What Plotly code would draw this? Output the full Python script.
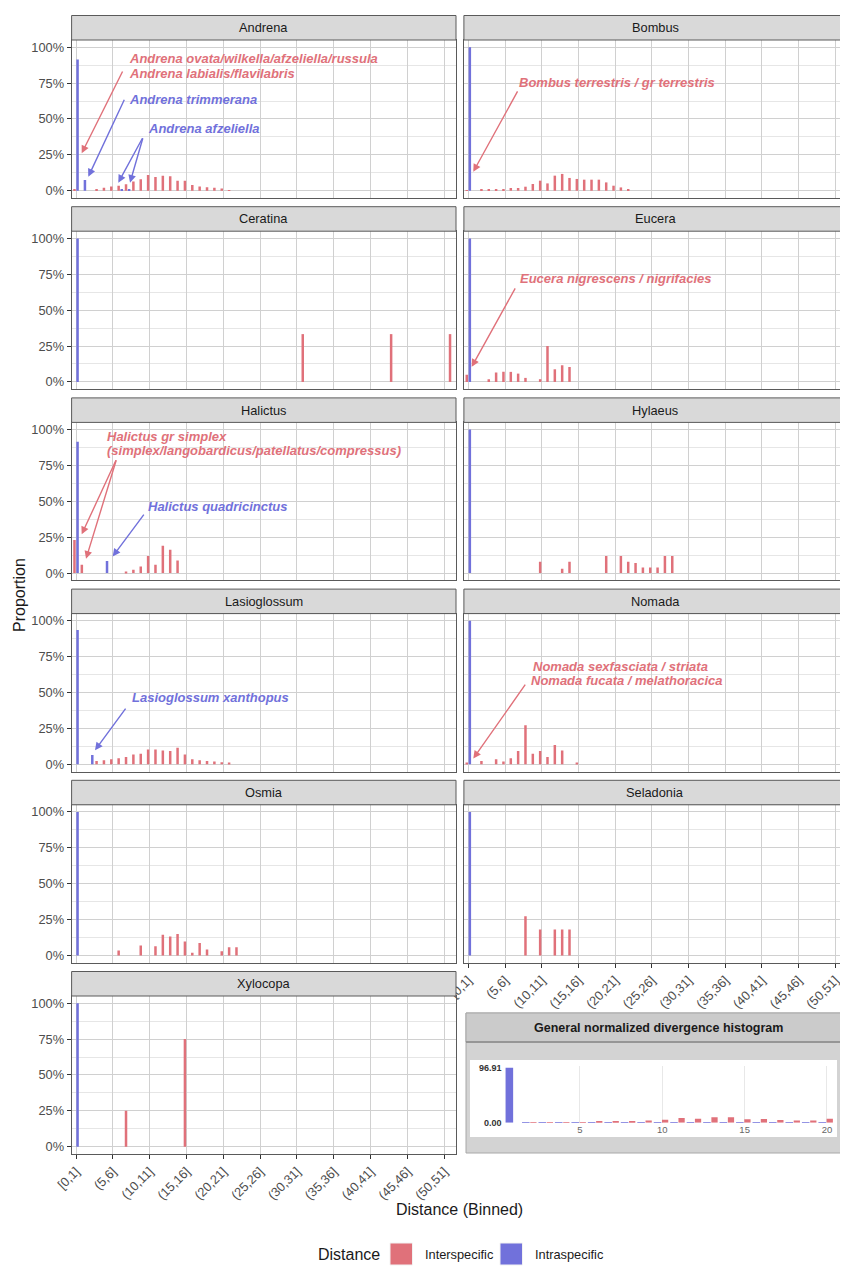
import plotly.graph_objects as go

# The page body has an 8px margin, so the figure is drawn slightly smaller and
# every reference pixel position is shifted by that margin.
OX, OY = 8, 8
FW, FH = 840, 1266
RED = "#E0717A"
BLUE = "#7171DB"
FONT = "Liberation Sans, Arial, Helvetica, sans-serif"
GRID = "#d0d0d0"
MINOR = "#e6e6e6"
BORDER = "#5a5a5a"

# ---------------- data ----------------
bin_labels = ["[0,1]"] + ["(%d,%d]" % (i, i + 1) for i in range(1, 52)]
tick_bins = [1, 6, 11, 16, 21, 26, 31, 36, 41, 46, 51]
tick_text = [bin_labels[b - 1] for b in tick_bins]
y_ticks = [0, 25, 50, 75, 100]
y_tick_text = ["0%", "25%", "50%", "75%", "100%"]

andrena_inter_x = [1, 4, 5, 6, 7, 8, 9, 10, 11, 12, 13, 14, 15, 16, 17, 18, 19, 20, 21, 22]
andrena_inter_y = [1, 1, 2, 3, 3.5, 4.5, 6.5, 8, 11, 9.5, 10.5, 10, 7, 7, 4, 3, 2.5, 2, 1.5, 0.5]
andrena_intra_x = [1, 2, 7, 8]
andrena_intra_y = [91.4, 7.5, 0.6, 0.6]

bombus_inter_x = [1, 3, 4, 5, 6, 7, 8, 9, 10, 11, 12, 13, 14, 15, 16, 17, 18, 19, 20, 21, 22, 23]
bombus_inter_y = [0.5, 0.7, 0.7, 1.2, 1.2, 1.9, 1.9, 2.8, 4.7, 7, 5.1, 10.5, 11.7, 8.9, 8.2, 7.7, 7.7, 7.7, 5.8, 3.5, 2.3, 1.2]
bombus_intra_x = [1]
bombus_intra_y = [100]

ceratina_inter_x = [32, 44, 52]
ceratina_inter_y = [33.3, 33.3, 33.3]
ceratina_intra_x = [1]
ceratina_intra_y = [100]

eucera_inter_x = [1, 4, 5, 6, 7, 8, 9, 11, 12, 13, 14, 15]
eucera_inter_y = [5, 1.9, 6.5, 7, 7, 5.8, 2.8, 1.9, 25, 8.8, 11.6, 10.4]
eucera_intra_x = [1]
eucera_intra_y = [100]

halictus_inter_x = [1, 2, 8, 9, 10, 11, 12, 13, 14, 15]
halictus_inter_y = [23, 5.8, 0.7, 2.3, 4.7, 12, 5.8, 19, 16.3, 8.8]
halictus_intra_x = [1, 5]
halictus_intra_y = [91.6, 8.4]

hylaeus_inter_x = [11, 14, 15, 20, 22, 23, 24, 25, 26, 27, 28, 29]
hylaeus_inter_y = [8, 3, 8, 12, 12, 8, 7, 4, 4, 4, 12, 12]
hylaeus_intra_x = [1]
hylaeus_intra_y = [100]

lasioglossum_inter_x = [4, 5, 6, 7, 8, 9, 10, 11, 12, 13, 14, 15, 16, 17, 18, 19, 20, 21, 22]
lasioglossum_inter_y = [2.3, 2.8, 3.5, 4.2, 5.1, 6.9, 7.4, 10.4, 10.4, 9.7, 9.3, 11.6, 6.9, 3.5, 2.8, 2.3, 1.9, 1.4, 0.7]
lasioglossum_intra_x = [1, 3]
lasioglossum_intra_y = [93.5, 6.5]

nomada_inter_x = [1, 3, 5, 6, 7, 8, 9, 10, 11, 12, 13, 14, 16]
nomada_inter_y = [1, 2.3, 3.5, 1.9, 4.2, 9.3, 27.3, 7.4, 9.3, 5.1, 13.4, 9.7, 0.7]
nomada_intra_x = [1]
nomada_intra_y = [100]

osmia_inter_x = [7, 10, 12, 13, 14, 15, 16, 17, 18, 19, 21, 22, 23]
osmia_inter_y = [3.5, 7, 6.5, 14.4, 13.2, 15, 9.7, 1.9, 8.8, 4.2, 3, 5.8, 5.8]
osmia_intra_x = [1]
osmia_intra_y = [100]

seladonia_inter_x = [9, 11, 13, 14, 15]
seladonia_inter_y = [27.3, 18.2, 18.2, 18.2, 18.2]
seladonia_intra_x = [1]
seladonia_intra_y = [100]

xylocopa_inter_x = [8, 16]
xylocopa_inter_y = [25, 75]
xylocopa_intra_x = [1]
xylocopa_intra_y = [100]

inset_x = [1, 2, 3, 4, 5, 6, 7, 8, 9, 10, 11, 12, 13, 14, 15, 16, 17, 18, 19, 20]
inset_intra = [96.91, 0.3, 0.3, 0.3, 0.3, 0.3, 0.2, 0.2, 0.2, 0.2, 0.1, 0.1, 0.1, 0.1, 0.1, 0.1, 0.1, 0.1, 0.1, 0.1]
inset_inter = [0, 0.6, 0.6, 0.6, 1.2, 1.8, 2.4, 2.9, 4.1, 5.3, 8.2, 7.1, 9.4, 9.4, 5.9, 6.5, 4.7, 4.1, 4.1, 7.1]

panels = [
    ("Andrena", andrena_inter_x, andrena_inter_y, andrena_intra_x, andrena_intra_y),
    ("Bombus", bombus_inter_x, bombus_inter_y, bombus_intra_x, bombus_intra_y),
    ("Ceratina", ceratina_inter_x, ceratina_inter_y, ceratina_intra_x, ceratina_intra_y),
    ("Eucera", eucera_inter_x, eucera_inter_y, eucera_intra_x, eucera_intra_y),
    ("Halictus", halictus_inter_x, halictus_inter_y, halictus_intra_x, halictus_intra_y),
    ("Hylaeus", hylaeus_inter_x, hylaeus_inter_y, hylaeus_intra_x, hylaeus_intra_y),
    ("Lasioglossum", lasioglossum_inter_x, lasioglossum_inter_y, lasioglossum_intra_x, lasioglossum_intra_y),
    ("Nomada", nomada_inter_x, nomada_inter_y, nomada_intra_x, nomada_intra_y),
    ("Osmia", osmia_inter_x, osmia_inter_y, osmia_intra_x, osmia_intra_y),
    ("Seladonia", seladonia_inter_x, seladonia_inter_y, seladonia_intra_x, seladonia_intra_y),
    ("Xylocopa", xylocopa_inter_x, xylocopa_inter_y, xylocopa_intra_x, xylocopa_intra_y),
]

# annotation texts: (panel, text, colour, x(bin), y(%))
notes = [
    ("Andrena", "Andrena ovata/wilkella/afzeliella/russula", RED, 8.06, 92.1),
    ("Andrena", "Andrena labialis/flavilabris", RED, 8.06, 81.9),
    ("Andrena", "Andrena trimmerana", BLUE, 8.06, 63.2),
    ("Andrena", "Andrena afzeliella", BLUE, 10.64, 43.0),
    ("Bombus", "Bombus terrestris / gr terrestris", RED, 7.82, 75.3),
    ("Eucera", "Eucera nigrescens / nigrifacies", RED, 7.96, 72.0),
    ("Halictus", "Halictus gr simplex", RED, 5.07, 95.5),
    ("Halictus", "(simplex/langobardicus/patellatus/compressus)", RED, 5.07, 85.3),
    ("Halictus", "Halictus quadricinctus", BLUE, 10.6, 46.5),
    ("Lasioglossum", "Lasioglossum xanthopus", BLUE, 8.42, 46.9),
    ("Nomada", "Nomada sexfasciata / striata", RED, 9.65, 68.4),
    ("Nomada", "Nomada fucata / melathoracica", RED, 9.45, 58.2),
]
# arrows: (panel, colour, head x, head y, tail x, tail y)
arrows = [
    ("Andrena", RED, 1.77, 26.1, 7.42, 84.1),
    ("Andrena", BLUE, 2.67, 9.8, 7.65, 64.4),
    ("Andrena", BLUE, 6.74, 5.6, 10.13, 37.6),
    ("Andrena", BLUE, 8.33, 5.6, 10.13, 37.6),
    ("Bombus", RED, 1.68, 13.2, 7.82, 70.2),
    ("Eucera", RED, 1.46, 10.5, 7.5, 66.2),
    ("Halictus", RED, 1.77, 27.0, 6.52, 79.7),
    ("Halictus", RED, 2.36, 10.0, 6.52, 79.7),
    ("Halictus", BLUE, 5.98, 11.6, 10.36, 41.8),
    ("Lasioglossum", BLUE, 3.58, 9.8, 7.88, 39.9),
    ("Nomada", RED, 1.68, 4.0, 8.9, 56.5),
]

# ---------------- layout geometry (reference pixels) ----------------
LEFT = (71.6, 456.0)
RIGHT = (463.9, 847.0)
TOP0 = 40.0
PITCH = 191.2
PH = 157.9
STRIP = 24.5


def px(x):
    return (x - OX) / FW


def py(y):
    return 1 - (y - OY) / FH


fig = go.Figure()
layout = {}
shapes = []
annotations = []
axis_of = {}

for k, (name, ix, iy, jx, jy) in enumerate(panels):
    r, c = divmod(k, 2)
    x0, x1 = LEFT if c == 0 else RIGHT
    top = TOP0 + PITCH * r
    bot = top + PH
    sfx = "" if k == 0 else str(k + 1)
    xa, ya = "x" + sfx, "y" + sfx
    axis_of[name] = (xa, ya)
    fig.add_trace(go.Bar(x=ix, y=iy, xaxis=xa, yaxis=ya, marker=dict(color=RED, line=dict(width=0)),
                         width=0.34, offset=-0.38, name="Interspecific", showlegend=False))
    fig.add_trace(go.Bar(x=jx, y=jy, xaxis=xa, yaxis=ya, marker=dict(color=BLUE, line=dict(width=0)),
                         width=0.34, offset=0.04, name="Intraspecific", showlegend=False))
    bottom_panel = name in ("Xylocopa", "Seladonia")
    layout["xaxis" + sfx] = dict(
        domain=[px(x0), px(x1)], anchor=ya, range=[0.4, 52.6],
        tickmode="array", tickvals=tick_bins, ticktext=tick_text,
        showticklabels=bottom_panel, ticks="outside" if bottom_panel else "",
        ticklen=4, tickwidth=1, tickcolor="#333333", tickangle=-45,
        tickfont=dict(family=FONT, size=12.8, color="#4d4d4d"),
        showgrid=True, gridcolor=GRID, gridwidth=1, zeroline=False,
        showline=True, mirror=True, linecolor=BORDER, linewidth=1,
        automargin=False, fixedrange=True)
    layout["yaxis" + sfx] = dict(
        domain=[py(bot), py(top)], anchor=xa, range=[-5, 105],
        tickmode="array", tickvals=y_ticks, ticktext=y_tick_text,
        showticklabels=(c == 0), ticks="outside" if c == 0 else "",
        ticklen=4, tickwidth=1, tickcolor="#333333",
        tickfont=dict(family=FONT, size=12.8, color="#4d4d4d"),
        showgrid=True, gridcolor=GRID, gridwidth=1, zeroline=False,
        showline=True, mirror=True, linecolor=BORDER, linewidth=1,
        minor=dict(tickmode="array", tickvals=[12.5, 37.5, 62.5, 87.5], showgrid=True,
                   gridcolor=MINOR, gridwidth=1, ticks=""),
        automargin=False, fixedrange=True)
    shapes.append(dict(type="rect", xref="paper", yref="paper", x0=px(x0), x1=px(x1),
                       y0=py(top), y1=py(top - STRIP), fillcolor="#d9d9d9",
                       line=dict(color=BORDER, width=1), layer="above"))
    annotations.append(dict(text=name, xref="paper", yref="paper", x=px((x0 + x1) / 2),
                            y=py(top - STRIP / 2), showarrow=False, xanchor="center", yanchor="middle",
                            font=dict(family=FONT, size=12.8, color="#1a1a1a")))

for name, text, col, x, y in notes:
    xa, ya = axis_of[name]
    annotations.append(dict(text=text, xref=xa, yref=ya, x=x, y=y, showarrow=False,
                            xanchor="left", yanchor="middle", borderpad=0,
                            font=dict(family=FONT, size=13, color=col, weight="bold", style="italic")))

for name, col, hx, hy, tx, ty in arrows:
    xa, ya = axis_of[name]
    annotations.append(dict(text="", xref=xa, yref=ya, x=hx, y=hy, axref=xa, ayref=ya, ax=tx, ay=ty,
                            showarrow=True, arrowhead=2, arrowsize=1.1, arrowwidth=1.4, arrowcolor=col,
                            standoff=0, startstandoff=0))

# ---------------- inset histogram ----------------
shapes.append(dict(type="rect", xref="paper", yref="paper", x0=px(466), x1=px(843), y0=py(1153), y1=py(1013),
                   fillcolor="#d3d3d3", line=dict(color="#a8a8a8", width=1), layer="below"))
shapes.append(dict(type="rect", xref="paper", yref="paper", x0=px(466), x1=px(843), y0=py(1042), y1=py(1013),
                   fillcolor="#cbcbcb", line=dict(color="#a8a8a8", width=1), layer="below"))
shapes.append(dict(type="line", xref="paper", yref="paper", x0=px(466), x1=px(843), y0=py(1042), y1=py(1042),
                   line=dict(color="#8a8a8a", width=1.5), layer="below"))
shapes.append(dict(type="rect", xref="paper", yref="paper", x0=px(470), x1=px(837), y0=py(1137), y1=py(1060),
                   fillcolor="white", line=dict(width=0), layer="below"))
annotations.append(dict(text="General normalized divergence histogram", xref="paper", yref="paper",
                        x=px(658), y=py(1027.5), showarrow=False, xanchor="center", yanchor="middle",
                        font=dict(family=FONT, size=12.5, color="#1a1a1a", weight="bold")))

fig.add_trace(go.Bar(x=inset_x, y=inset_intra, xaxis="x12", yaxis="y12", marker=dict(color=BLUE, line=dict(width=0)),
                     width=0.46, offset=-0.52, name="Intraspecific", showlegend=False))
fig.add_trace(go.Bar(x=inset_x, y=inset_inter, xaxis="x12", yaxis="y12", marker=dict(color=RED, line=dict(width=0)),
                     width=0.38, offset=-0.02, name="Interspecific", showlegend=False))
layout["xaxis12"] = dict(domain=[px(502.6), px(835.2)], anchor="y12", range=[0.3, 20.5],
                         tickmode="array", tickvals=[5, 10, 15, 20], ticks="", showline=False,
                         showgrid=True, gridcolor="#e8e8e8", gridwidth=1, zeroline=False,
                         tickfont=dict(family=FONT, size=9.5, color="#666666"), automargin=False, fixedrange=True)
layout["yaxis12"] = dict(domain=[py(1122.7), py(1066)], anchor="x12", range=[0, 100],
                         tickmode="array", tickvals=[0, 96.91], ticktext=["0.00", "96.91"], ticks="",
                         showgrid=False, zeroline=False, showline=False,
                         tickfont=dict(family=FONT, size=9, color="#333333", weight="bold"),
                         automargin=False, fixedrange=True)

# ---------------- titles & legend ----------------
annotations.append(dict(text="Proportion", xref="paper", yref="paper", x=px(19), y=py(595), textangle=-90,
                        showarrow=False, xanchor="center", yanchor="middle",
                        font=dict(family=FONT, size=16, color="#1a1a1a")))
annotations.append(dict(text="Distance (Binned)", xref="paper", yref="paper", x=px(459), y=py(1209),
                        showarrow=False, xanchor="center", yanchor="middle",
                        font=dict(family=FONT, size=16, color="#1a1a1a")))
annotations.append(dict(text="Distance", xref="paper", yref="paper", x=px(316), y=py(1254),
                        showarrow=False, xanchor="left", yanchor="middle",
                        font=dict(family=FONT, size=16, color="#1a1a1a")))
shapes.append(dict(type="rect", xref="paper", yref="paper", x0=px(390), x1=px(412.5), y0=py(1265), y1=py(1243),
                   fillcolor=RED, line=dict(color="#f2f2f2", width=1)))
annotations.append(dict(text="Interspecific", xref="paper", yref="paper", x=px(423), y=py(1254),
                        showarrow=False, xanchor="left", yanchor="middle",
                        font=dict(family=FONT, size=12.8, color="#1a1a1a")))
shapes.append(dict(type="rect", xref="paper", yref="paper", x0=px(500), x1=px(522.5), y0=py(1265), y1=py(1243),
                   fillcolor=BLUE, line=dict(color="#f2f2f2", width=1)))
annotations.append(dict(text="Intraspecific", xref="paper", yref="paper", x=px(533), y=py(1254),
                        showarrow=False, xanchor="left", yanchor="middle",
                        font=dict(family=FONT, size=12.8, color="#1a1a1a")))

fig.update_layout(
    width=FW, height=FH, margin=dict(l=0, r=0, t=0, b=0),
    paper_bgcolor="white", plot_bgcolor="white", barmode="overlay",
    showlegend=False, shapes=shapes, annotations=annotations,
    font=dict(family=FONT), **layout)

fig.write_html("out.html")
